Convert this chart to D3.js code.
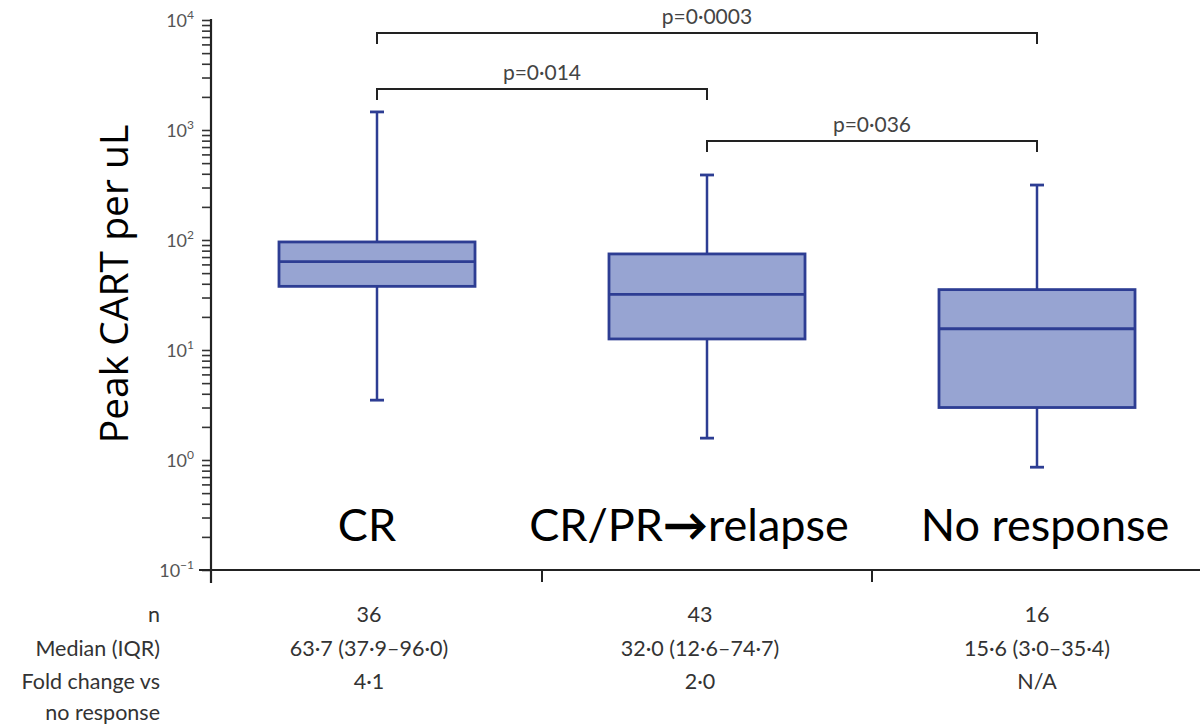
<!DOCTYPE html>
<html>
<head>
<meta charset="utf-8">
<script src="https://cdn.jsdelivr.net/npm/d3@7"></script>
<style>
  body { margin: 0; background: #fff; }
  svg { display: block; }
</style>
</head>
<body>
<svg id="chart" width="1200" height="724"></svg>
<script>
// ---- data ----
const categories = ["CR", "CR/PR\u2192relapse", "No response"];
const whiskerMin = [3.5, 1.58, 0.86];
const q1 = [37.9, 12.6, 3.0];
const medians = [63.7, 32.0, 15.6];
const q3 = [96.0, 74.7, 35.4];
const whiskerMax = [1460, 390, 316];
const nValues = ["36", "43", "16"];
const medianIQR = ["63\u00b77 (37\u00b79\u201396\u00b70)", "32\u00b70 (12\u00b76\u201374\u00b77)", "15\u00b76 (3\u00b70\u201335\u00b74)"];
const foldChange = ["4\u00b71", "2\u00b70", "N/A"];
const rowLabels = ["n", "Median (IQR)", "Fold change vs", "no response"];
const comparisons = [
  { from: 0, to: 2, p: "p=0\u00b70003", level: 0 },
  { from: 0, to: 1, p: "p=0\u00b7014", level: 1 },
  { from: 1, to: 2, p: "p=0\u00b7036", level: 2 }
];
const yTickPowers = [-1, 0, 1, 2, 3, 4];
const yTitle = "Peak CART per uL";

// ---- layout ----
const svg = d3.select("#chart");
const axisX = 211, axisY = 570, topY = 20;
const x = d3.scaleBand().domain(categories).range([212, 1202]).padding(0);
const y = d3.scaleLog().domain([0.1, 10000]).range([axisY, topY]);
const boxW = x.bandwidth() * 0.594;
const capW = 14;
const boxFill = "#97a4d2", boxStroke = "#2d3d93";
const cx = i => x(categories[i]) + x.bandwidth() / 2;
const labelShift = [-10, -18, 8];
const tableShift = [-8, -7, 0];

// y axis
const yAxis = d3.axisLeft(y).tickSize(9).tickFormat("");
const gy = svg.append("g").attr("transform", `translate(${axisX},0)`).call(yAxis);
gy.select(".domain").remove();
gy.selectAll(".tick line").attr("stroke", "#333").attr("stroke-width", 1.6);
svg.append("line").attr("x1", axisX).attr("x2", axisX).attr("y1", y(10000) - 1).attr("y2", axisY + 13)
  .attr("stroke", "#222").attr("stroke-width", 2.2);
// tick labels
yTickPowers.forEach(p => {
  const t = svg.append("text").attr("x", 194).attr("y", y(Math.pow(10, p)) + 7)
    .attr("text-anchor", "end").attr("fill", "#555")
    .style("font-family", "Lato, 'Open Sans', sans-serif").style("font-size", "18px");
  t.append("tspan").text("10");
  t.append("tspan").attr("dy", -8).style("font-size", "12px").text(String(p).replace("-", "\u2212"));
});

// x axis
svg.append("line").attr("x1", axisX - 12).attr("x2", 1200).attr("y1", axisY).attr("y2", axisY)
  .attr("stroke", "#222").attr("stroke-width", 2.2);
const xAxis = d3.axisBottom(x).tickSize(0).tickFormat("");
svg.append("g").attr("transform", `translate(0,${axisY})`).call(xAxis).select(".domain").remove();
categories.slice(1).forEach(c => {
  svg.append("line").attr("x1", x(c)).attr("x2", x(c)).attr("y1", axisY).attr("y2", axisY + 12)
    .attr("stroke", "#222").attr("stroke-width", 2);
});

// y title
svg.append("text")
  .attr("transform", `translate(128,${284}) rotate(-90)`)
  .attr("text-anchor", "middle").attr("fill", "#000")
  .style("font-family", "'Open Sans', Lato, sans-serif").style("font-size", "39px")
  .text(yTitle);

// boxes
const g = svg.append("g");
categories.forEach((c, i) => {
  const xc = cx(i);
  g.append("line").attr("x1", xc).attr("x2", xc).attr("y1", y(whiskerMax[i])).attr("y2", y(q3[i]))
    .attr("stroke", boxStroke).attr("stroke-width", 2.5);
  g.append("line").attr("x1", xc).attr("x2", xc).attr("y1", y(q1[i])).attr("y2", y(whiskerMin[i]))
    .attr("stroke", boxStroke).attr("stroke-width", 2.5);
  [whiskerMax[i], whiskerMin[i]].forEach(v => {
    g.append("line").attr("x1", xc - capW / 2).attr("x2", xc + capW / 2).attr("y1", y(v)).attr("y2", y(v))
      .attr("stroke", boxStroke).attr("stroke-width", 2.8);
  });
  g.append("rect").attr("x", xc - boxW / 2).attr("width", boxW)
    .attr("y", y(q3[i])).attr("height", y(q1[i]) - y(q3[i]))
    .attr("fill", boxFill).attr("stroke", boxStroke).attr("stroke-width", 2.8);
  g.append("line").attr("x1", xc - boxW / 2).attr("x2", xc + boxW / 2)
    .attr("y1", y(medians[i])).attr("y2", y(medians[i]))
    .attr("stroke", boxStroke).attr("stroke-width", 2.8);
});

// category labels
categories.forEach((c, i) => {
  const t = svg.append("text").attr("x", cx(i) + labelShift[i]).attr("y", 541)
    .attr("text-anchor", "middle").attr("fill", "#000")
    .style("font-family", "Lato, 'Open Sans', sans-serif").style("font-size", "45px");
  const parts = c.split("\u2192");
  if (parts.length === 2) {
    t.append("tspan").text(parts[0]);
    t.append("tspan").style("font-weight", "900").text("\u2192");
    t.append("tspan").text(parts[1]);
  } else {
    t.text(c);
  }
});

// comparison brackets
const bracketY = [33, 89, 141];
comparisons.forEach(cmp => {
  const by = bracketY[cmp.level];
  const x1 = cx(cmp.from), x2 = cx(cmp.to);
  svg.append("path").attr("d", `M${x1},${by + 11}V${by}H${x2}V${by + 11}`)
    .attr("fill", "none").attr("stroke", "#222").attr("stroke-width", 2);
  svg.append("text").attr("x", (x1 + x2) / 2).attr("y", by - 9)
    .attr("text-anchor", "middle").attr("fill", "#444")
    .style("font-family", "Lato, 'Open Sans', sans-serif").style("font-size", "21px")
    .text(cmp.p);
});

// table
const tableFont = "Lato, 'Open Sans', sans-serif";
const rowY = [622, 656, 689, 720];
rowLabels.forEach((r, k) => {
  svg.append("text").attr("x", 160).attr("y", rowY[k]).attr("text-anchor", "end").attr("fill", "#333")
    .style("font-family", tableFont).style("font-size", "21.5px").text(r);
});
[nValues, medianIQR, foldChange].forEach((row, k) => {
  row.forEach((v, i) => {
    svg.append("text").attr("x", cx(i) + tableShift[i]).attr("y", rowY[k]).attr("text-anchor", "middle").attr("fill", "#333")
      .style("font-family", tableFont).style("font-size", "21.5px").text(v);
  });
});
</script>
</body>
</html>
